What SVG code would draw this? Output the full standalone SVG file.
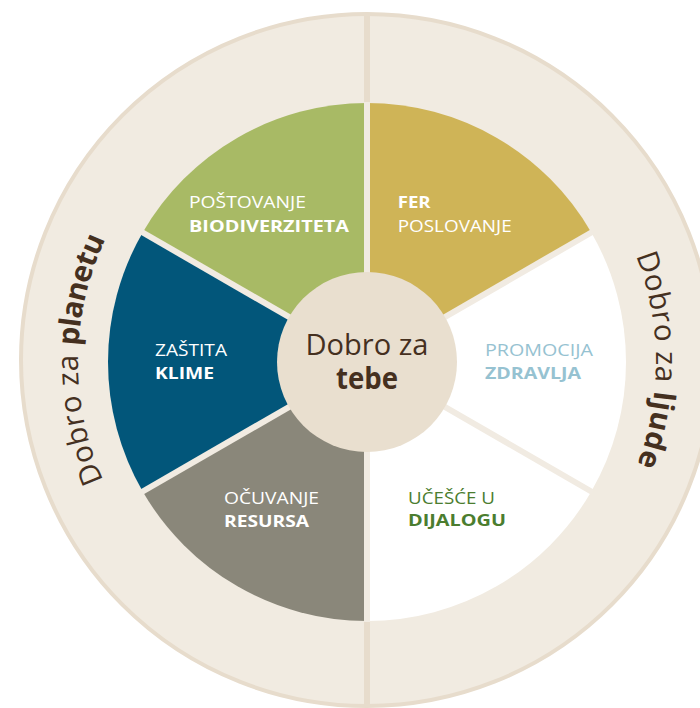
<svg xmlns="http://www.w3.org/2000/svg" width="700" height="708" viewBox="0 0 700 708">
  <defs>
    <style>
      .lbl { font-family: "Open Sans", "Noto Sans", sans-serif; font-size: 16.5px; }
      .b { font-weight: 700; }
      .ring { font-family: "Open Sans", "Noto Sans", sans-serif; font-size: 29.5px; fill: #45301f; }
      .ctr { font-family: "Open Sans", "Noto Sans", sans-serif; font-size: 30px; fill: #45301f; }
      .gap { stroke: #f1ebe2; stroke-width: 6; stroke-linecap: butt; }
    </style>
    <path id="arcL" d="M367,651 A289,289 0 0 1 367,73"/>
    <path id="arcR" d="M367,73 A289,289 0 0 1 367,651"/>
  </defs>
  <rect width="700" height="708" fill="#ffffff"/>
  <g id="outer-ring">
    <circle cx="367" cy="360" r="346" fill="#f1ebe1" stroke="#e7dccc" stroke-width="4"/>
    <line x1="367" y1="14" x2="367" y2="706" stroke="#e7dccc" stroke-width="6"/>
  </g>
  <g id="sector-biodiverzitet">
    <path d="M367,362 L367,103 A259,259 0 0 0 142.7,232.5 Z" fill="#a8ba65"/>
    <text class="lbl" x="189" y="208" fill="#ffffff" textLength="117" lengthAdjust="spacingAndGlyphs">POŠTOVANJE</text>
    <text class="lbl b" x="189" y="231.7" fill="#ffffff" textLength="160" lengthAdjust="spacingAndGlyphs">BIODIVERZITETA</text>
  </g>
  <g id="sector-klima">
    <path d="M367,362 L142.7,232.5 A259,259 0 0 0 142.7,491.5 Z" fill="#02567a"/>
    <text class="lbl" x="155" y="356" fill="#ffffff" textLength="72" lengthAdjust="spacingAndGlyphs">ZAŠTITA</text>
    <text class="lbl b" x="155" y="379.3" fill="#ffffff" textLength="59" lengthAdjust="spacingAndGlyphs">KLIME</text>
  </g>
  <g id="sector-resursi">
    <path d="M367,362 L142.7,491.5 A259,259 0 0 0 367,621 Z" fill="#8a877a"/>
    <text class="lbl" x="224" y="504" fill="#ffffff" textLength="95" lengthAdjust="spacingAndGlyphs">OČUVANJE</text>
    <text class="lbl b" x="224" y="526.7" fill="#ffffff" textLength="85" lengthAdjust="spacingAndGlyphs">RESURSA</text>
  </g>
  <g id="sector-dijalog">
    <path d="M367,362 L367,621 A259,259 0 0 0 591.3,491.5 Z" fill="#ffffff"/>
    <text class="lbl" x="408" y="504.3" fill="#4b7d2f" textLength="87" lengthAdjust="spacingAndGlyphs">UČEŠĆE U</text>
    <text class="lbl b" x="408" y="525.7" fill="#4b7d2f" textLength="98" lengthAdjust="spacingAndGlyphs">DIJALOGU</text>
  </g>
  <g id="sector-zdravlje">
    <path d="M367,362 L591.3,491.5 A259,259 0 0 0 591.3,232.5 Z" fill="#ffffff"/>
    <text class="lbl" x="485" y="356" fill="#96c2d1" textLength="108" lengthAdjust="spacingAndGlyphs">PROMOCIJA</text>
    <text class="lbl b" x="485" y="379.3" fill="#96c2d1" textLength="96" lengthAdjust="spacingAndGlyphs">ZDRAVLJA</text>
  </g>
  <g id="sector-poslovanje">
    <path d="M367,362 L591.3,232.5 A259,259 0 0 0 367,103 Z" fill="#cfb457"/>
    <text class="lbl b" x="397.7" y="208" fill="#ffffff" textLength="33" lengthAdjust="spacingAndGlyphs">FER</text>
    <text class="lbl" x="397.7" y="231.7" fill="#ffffff" textLength="114" lengthAdjust="spacingAndGlyphs">POSLOVANJE</text>
  </g>
  <g id="connectors">
    <line class="gap" x1="367" y1="362" x2="367" y2="102"/>
    <line class="gap" x1="367" y1="362" x2="367" y2="622"/>
    <line class="gap" x1="367" y1="362" x2="592.2" y2="232"/>
    <line class="gap" x1="367" y1="362" x2="592.2" y2="492"/>
    <line class="gap" x1="367" y1="362" x2="141.8" y2="232"/>
    <line class="gap" x1="367" y1="362" x2="141.8" y2="492"/>
  </g>
  <g id="center">
    <circle cx="367" cy="362" r="90" fill="#e9dfcf"/>
    <text class="ctr" x="367" y="355" text-anchor="middle" textLength="123" lengthAdjust="spacingAndGlyphs">Dobro za</text>
    <text class="ctr" x="367" y="389" text-anchor="middle" font-weight="700" textLength="62" lengthAdjust="spacingAndGlyphs">tebe</text>
  </g>
  <g id="label-planet">
    <text class="ring" letter-spacing="0.6"><textPath href="#arcL" startOffset="456" text-anchor="middle">Dobro za <tspan font-weight="700" letter-spacing="-0.6">planetu</tspan></textPath></text>
  </g>
  <g id="label-ljudi">
    <text class="ring" letter-spacing="0.6"><textPath href="#arcR" startOffset="452" text-anchor="middle">Dobro za <tspan font-weight="700">ljude</tspan></textPath></text>
  </g>
</svg>
